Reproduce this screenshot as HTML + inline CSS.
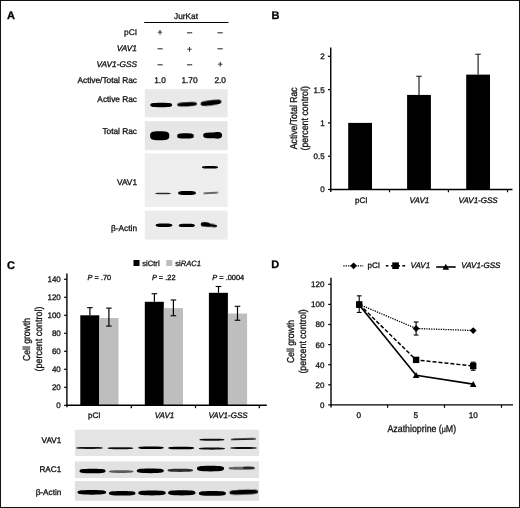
<!DOCTYPE html>
<html lang="en"><head><meta charset="utf-8"><title>Figure</title>
<style>html,body{margin:0;padding:0;background:#fff}svg{display:block}text{font-family:"Liberation Sans", sans-serif;stroke:#111;stroke-width:.3px;text-rendering:geometricPrecision}</style>
</head><body>
<svg width="520" height="508" viewBox="0 0 520 508">
<defs>
<filter id="b1" x="-20%" y="-100%" width="140%" height="300%"><feGaussianBlur stdDeviation="0.7"/></filter>
<filter id="b2" x="-20%" y="-100%" width="140%" height="300%"><feGaussianBlur stdDeviation="0.45"/></filter>
<filter id="soft" x="0" y="0" width="100%" height="100%" filterUnits="userSpaceOnUse"><feGaussianBlur stdDeviation="0.32"/></filter>
</defs>
<rect x="0" y="0" width="520" height="508" fill="#fff"/>
<rect x="0.5" y="0.5" width="519" height="507" fill="none" stroke="#111" stroke-width="1"/>
<g filter="url(#soft)">
<g id="panelA">
<text x="7" y="19" font-size="11" text-anchor="start" font-weight="bold" fill="#000">A</text>
<text x="186" y="18.8" font-size="8.3" text-anchor="middle" fill="#111">JurKat</text>
<line x1="144.2" y1="22.5" x2="228.5" y2="22.5" stroke="#000" stroke-width="1"/>
<text x="137" y="35" font-size="8.3" text-anchor="end" fill="#111">pCI</text>
<text x="137" y="51" font-size="8.3" text-anchor="end" font-style="italic" fill="#111">VAV1</text>
<text x="137" y="66.7" font-size="8.3" text-anchor="end" font-style="italic" fill="#111">VAV1-GSS</text>
<text x="137" y="82.9" font-size="8.3" text-anchor="end" fill="#111">Active/Total Rac</text>
<text x="160" y="35.1" font-size="8.5" text-anchor="middle" fill="#333" stroke-width="0.1">+</text>
<text x="189.5" y="35.6" font-size="9.8" text-anchor="middle" fill="#333" stroke-width="0.1">−</text>
<text x="220.2" y="35.6" font-size="9.8" text-anchor="middle" fill="#333" stroke-width="0.1">−</text>
<text x="160" y="52.1" font-size="9.8" text-anchor="middle" fill="#333" stroke-width="0.1">−</text>
<text x="189.5" y="51.6" font-size="8.5" text-anchor="middle" fill="#333" stroke-width="0.1">+</text>
<text x="220.2" y="52.1" font-size="9.8" text-anchor="middle" fill="#333" stroke-width="0.1">−</text>
<text x="160" y="67.69999999999999" font-size="9.8" text-anchor="middle" fill="#333" stroke-width="0.1">−</text>
<text x="189.5" y="67.69999999999999" font-size="9.8" text-anchor="middle" fill="#333" stroke-width="0.1">−</text>
<text x="220.2" y="67.19999999999999" font-size="8.5" text-anchor="middle" fill="#333" stroke-width="0.1">+</text>
<text x="160" y="82.9" font-size="8.3" text-anchor="middle" fill="#111">1.0</text>
<text x="189.5" y="82.9" font-size="8.3" text-anchor="middle" fill="#111">1.70</text>
<text x="220.2" y="82.9" font-size="8.3" text-anchor="middle" fill="#111">2.0</text>
<rect x="144.8" y="89.2" width="82.8" height="28.1" fill="#e9e9e9"/>
<rect x="144.8" y="121.2" width="82.8" height="29.0" fill="#e6e6e6"/>
<rect x="144.8" y="153.5" width="82.8" height="53.5" fill="#eeeeee"/>
<rect x="144.8" y="210.6" width="82.8" height="29.0" fill="#ebebeb"/>
<text x="137" y="101.8" font-size="8.3" text-anchor="end" fill="#111">Active Rac</text>
<text x="137" y="134" font-size="8.3" text-anchor="end" fill="#111">Total Rac</text>
<text x="137" y="184.9" font-size="8.3" text-anchor="end" fill="#111">VAV1</text>
<text x="137" y="231.3" font-size="8.3" text-anchor="end" fill="#111">β-Actin</text>
<path d="M150.28 105.00C150.28 103.46 151.37 102.80 161.20 102.80C171.03 102.80 172.12 103.46 172.12 105.00C172.12 106.54 171.03 107.20 161.20 107.20C151.37 107.20 150.28 106.54 150.28 105.00Z" fill="#000" opacity="1.0" filter="url(#b1)"/>
<path d="M177.22 104.30C177.22 102.83 178.21 102.20 187.10 102.20C195.99 102.20 196.98 102.83 196.98 104.30C196.98 105.77 195.99 106.40 187.10 106.40C178.21 106.40 177.22 105.77 177.22 104.30Z" fill="#000" opacity="1.0" filter="url(#b1)" transform="rotate(-3 187.1 104.3)"/>
<path d="M200.60 102.80C200.60 100.98 201.64 100.20 211.00 100.20C220.36 100.20 221.40 100.98 221.40 102.80C221.40 104.62 220.36 105.40 211.00 105.40C201.64 105.40 200.60 104.62 200.60 102.80Z" fill="#000" opacity="1.0" filter="url(#b1)" transform="rotate(-7 211.0 102.8)"/>
<path d="M150.08 135.80C150.08 132.65 151.04 131.30 159.70 131.30C168.36 131.30 169.32 132.65 169.32 135.80C169.32 138.95 168.36 140.30 159.70 140.30C151.04 140.30 150.08 138.95 150.08 135.80Z" fill="#000" opacity="1.0" filter="url(#b1)"/>
<path d="M177.18 135.90C177.18 134.01 178.01 133.20 185.50 133.20C192.99 133.20 193.82 134.01 193.82 135.90C193.82 137.79 192.99 138.60 185.50 138.60C178.01 138.60 177.18 137.79 177.18 135.90Z" fill="#000" opacity="1.0" filter="url(#b1)"/>
<path d="M203.24 135.40C203.24 133.44 204.18 132.60 212.60 132.60C221.02 132.60 221.96 133.44 221.96 135.40C221.96 137.36 221.02 138.20 212.60 138.20C204.18 138.20 203.24 137.36 203.24 135.40Z" fill="#000" opacity="1.0" filter="url(#b1)"/>
<path d="M213.34 135.20C213.34 132.89 213.76 131.90 217.50 131.90C221.24 131.90 221.66 132.89 221.66 135.20C221.66 137.51 221.24 138.50 217.50 138.50C213.76 138.50 213.34 137.51 213.34 135.20Z" fill="#000" opacity="1.0" filter="url(#b1)"/>
<path d="M201.94 167.30C201.94 166.39 202.75 166.00 210.00 166.00C217.25 166.00 218.06 166.39 218.06 167.30C218.06 168.21 217.25 168.60 210.00 168.60C202.75 168.60 201.94 168.21 201.94 167.30Z" fill="#000" opacity="1.0" filter="url(#b2)"/>
<path d="M155.20 193.50C155.20 192.94 155.98 192.70 163.00 192.70C170.02 192.70 170.80 192.94 170.80 193.50C170.80 194.06 170.02 194.30 163.00 194.30C155.98 194.30 155.20 194.06 155.20 193.50Z" fill="#000" opacity="0.8" filter="url(#b2)"/>
<path d="M178.16 193.00C178.16 191.53 179.04 190.90 187.00 190.90C194.96 190.90 195.84 191.53 195.84 193.00C195.84 194.47 194.96 195.10 187.00 195.10C179.04 195.10 178.16 194.47 178.16 193.00Z" fill="#000" opacity="1.0" filter="url(#b1)"/>
<path d="M203.00 193.00C203.00 192.47 203.78 192.25 210.80 192.25C217.82 192.25 218.60 192.47 218.60 193.00C218.60 193.53 217.82 193.75 210.80 193.75C203.78 193.75 203.00 193.53 203.00 193.00Z" fill="#000" opacity="0.75" filter="url(#b2)" transform="rotate(-3 210.8 193.0)"/>
<path d="M155.68 225.20C155.68 223.94 156.51 223.40 164.00 223.40C171.49 223.40 172.32 223.94 172.32 225.20C172.32 226.46 171.49 227.00 164.00 227.00C156.51 227.00 155.68 226.46 155.68 225.20Z" fill="#000" opacity="1.0" filter="url(#b1)"/>
<path d="M178.74 225.40C178.74 224.21 179.55 223.70 186.80 223.70C194.05 223.70 194.86 224.21 194.86 225.40C194.86 226.59 194.05 227.10 186.80 227.10C179.55 227.10 178.74 226.59 178.74 225.40Z" fill="#000" opacity="1.0" filter="url(#b1)"/>
<path d="M200.94 225.10C200.94 223.94 201.75 223.45 209.00 223.45C216.25 223.45 217.06 223.94 217.06 225.10C217.06 226.25 216.25 226.75 209.00 226.75C201.75 226.75 200.94 226.25 200.94 225.10Z" fill="#000" opacity="1.0" filter="url(#b1)" transform="rotate(8 209.0 225.1)"/>
<path d="M200.88 224.40C200.88 222.86 201.32 222.20 205.30 222.20C209.28 222.20 209.72 222.86 209.72 224.40C209.72 225.94 209.28 226.60 205.30 226.60C201.32 226.60 200.88 225.94 200.88 224.40Z" fill="#000" opacity="1.0" filter="url(#b1)" transform="rotate(4 205.3 224.4)"/>
</g>
<g id="panelB">
<text x="271.5" y="19" font-size="11" text-anchor="start" font-weight="bold" fill="#000">B</text>
<line x1="330.75" y1="47.5" x2="330.75" y2="192" stroke="#000" stroke-width="1.4"/>
<line x1="330.75" y1="189.5" x2="512.5" y2="189.5" stroke="#000" stroke-width="1.4"/>
<line x1="327.95" y1="189.5" x2="330.75" y2="189.5" stroke="#000" stroke-width="1.2"/>
<text x="324.6" y="192.4" font-size="8" text-anchor="end" fill="#111">0</text>
<line x1="327.95" y1="156.2" x2="330.75" y2="156.2" stroke="#000" stroke-width="1.2"/>
<text x="324.6" y="159.1" font-size="8" text-anchor="end" fill="#111">0.5</text>
<line x1="327.95" y1="122.9" x2="330.75" y2="122.9" stroke="#000" stroke-width="1.2"/>
<text x="324.6" y="125.80000000000001" font-size="8" text-anchor="end" fill="#111">1</text>
<line x1="327.95" y1="89.60000000000001" x2="330.75" y2="89.60000000000001" stroke="#000" stroke-width="1.2"/>
<text x="324.6" y="92.50000000000001" font-size="8" text-anchor="end" fill="#111">1.5</text>
<line x1="327.95" y1="56.30000000000001" x2="330.75" y2="56.30000000000001" stroke="#000" stroke-width="1.2"/>
<text x="324.6" y="59.20000000000001" font-size="8" text-anchor="end" fill="#111">2</text>
<line x1="389.5" y1="189.5" x2="389.5" y2="192.3" stroke="#000" stroke-width="1.2"/>
<line x1="448.4" y1="189.5" x2="448.4" y2="192.3" stroke="#000" stroke-width="1.2"/>
<line x1="507.5" y1="189.5" x2="507.5" y2="192.3" stroke="#000" stroke-width="1.2"/>
<rect x="348.20000000000005" y="122.9" width="23.8" height="66.6" fill="#000"/>
<rect x="407.1" y="94.92800000000001" width="23.8" height="94.57199999999999" fill="#000"/>
<line x1="419.0" y1="76.28000000000002" x2="419.0" y2="94.92800000000001" stroke="#333" stroke-width="1.3"/>
<line x1="416.3" y1="76.28000000000002" x2="421.7" y2="76.28000000000002" stroke="#333" stroke-width="1.2"/>
<rect x="466.20000000000005" y="74.61500000000001" width="23.8" height="114.88499999999999" fill="#000"/>
<line x1="478.1" y1="54.30200000000002" x2="478.1" y2="74.61500000000001" stroke="#333" stroke-width="1.3"/>
<line x1="475.40000000000003" y1="54.30200000000002" x2="480.8" y2="54.30200000000002" stroke="#333" stroke-width="1.2"/>
<text x="361.2" y="203" font-size="8" text-anchor="middle" fill="#111">pCI</text>
<text x="419.4" y="202.8" font-size="8" text-anchor="middle" font-style="italic" fill="#111">VAV1</text>
<text x="478.1" y="202.8" font-size="8" text-anchor="middle" font-style="italic" fill="#111">VAV1-GSS</text>
<text transform="translate(297.3 118.3) rotate(-90) scale(0.86 1)" font-size="10" text-anchor="middle" fill="#111">Active/Total Rac</text>
<text transform="translate(308.0 118.3) rotate(-90) scale(0.885 1)" font-size="10" text-anchor="middle" fill="#111">(percent control)</text>
</g>
<g id="panelC">
<text x="7" y="268.5" font-size="11" text-anchor="start" font-weight="bold" fill="#000">C</text>
<rect x="133.5" y="260.0" width="6" height="6" fill="#000"/>
<text x="142.3" y="265.8" font-size="7.6" text-anchor="start" fill="#111">siCtrl</text>
<rect x="166.3" y="260.0" width="6" height="6" fill="#bebebe"/>
<text x="175.2" y="265.8" font-size="7.6" fill="#111">si<tspan font-style="italic">RAC1</tspan></text>
<line x1="64.10000000000001" y1="405.3" x2="66.9" y2="405.3" stroke="#000" stroke-width="1.2"/>
<text x="60.8" y="408.2" font-size="8" text-anchor="end" fill="#111">0</text>
<line x1="64.10000000000001" y1="387.3" x2="66.9" y2="387.3" stroke="#000" stroke-width="1.2"/>
<text x="60.8" y="390.2" font-size="8" text-anchor="end" fill="#111">20</text>
<line x1="64.10000000000001" y1="369.3" x2="66.9" y2="369.3" stroke="#000" stroke-width="1.2"/>
<text x="60.8" y="372.2" font-size="8" text-anchor="end" fill="#111">40</text>
<line x1="64.10000000000001" y1="351.3" x2="66.9" y2="351.3" stroke="#000" stroke-width="1.2"/>
<text x="60.8" y="354.2" font-size="8" text-anchor="end" fill="#111">60</text>
<line x1="64.10000000000001" y1="333.3" x2="66.9" y2="333.3" stroke="#000" stroke-width="1.2"/>
<text x="60.8" y="336.2" font-size="8" text-anchor="end" fill="#111">80</text>
<line x1="64.10000000000001" y1="315.3" x2="66.9" y2="315.3" stroke="#000" stroke-width="1.2"/>
<text x="60.8" y="318.2" font-size="8" text-anchor="end" fill="#111">100</text>
<line x1="64.10000000000001" y1="297.3" x2="66.9" y2="297.3" stroke="#000" stroke-width="1.2"/>
<text x="60.8" y="300.2" font-size="8" text-anchor="end" fill="#111">120</text>
<line x1="64.10000000000001" y1="279.3" x2="66.9" y2="279.3" stroke="#000" stroke-width="1.2"/>
<text x="60.8" y="282.2" font-size="8" text-anchor="end" fill="#111">140</text>
<line x1="131.3" y1="405.3" x2="131.3" y2="408.2" stroke="#000" stroke-width="1.2"/>
<line x1="195.5" y1="405.3" x2="195.5" y2="408.2" stroke="#000" stroke-width="1.2"/>
<line x1="259.3" y1="405.3" x2="259.3" y2="408.2" stroke="#000" stroke-width="1.2"/>
<rect x="80.3" y="315.3" width="19.0" height="90.0" fill="#000"/>
<rect x="99.3" y="318.0" width="19.2" height="87.30000000000001" fill="#bebebe"/>
<line x1="89.89999999999999" y1="307.65" x2="89.89999999999999" y2="315.3" stroke="#000" stroke-width="1.2"/>
<line x1="87.1" y1="307.65" x2="92.69999999999999" y2="307.65" stroke="#000" stroke-width="1.1"/>
<line x1="108.89999999999999" y1="308.1" x2="108.89999999999999" y2="326.1" stroke="#000" stroke-width="1.2"/>
<line x1="106.1" y1="308.1" x2="111.69999999999999" y2="308.1" stroke="#000" stroke-width="1.1"/>
<line x1="106.1" y1="326.1" x2="111.69999999999999" y2="326.1" stroke="#000" stroke-width="1.1"/>
<rect x="144.8" y="301.8" width="19.0" height="103.5" fill="#000"/>
<rect x="163.8" y="308.1" width="19.2" height="97.19999999999999" fill="#bebebe"/>
<line x1="154.4" y1="293.7" x2="154.4" y2="301.8" stroke="#000" stroke-width="1.2"/>
<line x1="151.6" y1="293.7" x2="157.20000000000002" y2="293.7" stroke="#000" stroke-width="1.1"/>
<line x1="173.4" y1="300.0" x2="173.4" y2="315.75" stroke="#000" stroke-width="1.2"/>
<line x1="170.6" y1="300.0" x2="176.20000000000002" y2="300.0" stroke="#000" stroke-width="1.1"/>
<line x1="170.6" y1="315.75" x2="176.20000000000002" y2="315.75" stroke="#000" stroke-width="1.1"/>
<rect x="208.9" y="292.8" width="19.0" height="112.5" fill="#000"/>
<rect x="227.9" y="313.5" width="19.2" height="91.80000000000001" fill="#bebebe"/>
<line x1="218.5" y1="286.5" x2="218.5" y2="292.8" stroke="#000" stroke-width="1.2"/>
<line x1="215.7" y1="286.5" x2="221.3" y2="286.5" stroke="#000" stroke-width="1.1"/>
<line x1="237.5" y1="306.3" x2="237.5" y2="320.25" stroke="#000" stroke-width="1.2"/>
<line x1="234.7" y1="306.3" x2="240.3" y2="306.3" stroke="#000" stroke-width="1.1"/>
<line x1="234.7" y1="320.25" x2="240.3" y2="320.25" stroke="#000" stroke-width="1.1"/>
<line x1="66.9" y1="273.5" x2="66.9" y2="407.2" stroke="#000" stroke-width="1.4"/>
<line x1="66.9" y1="405.3" x2="266.8" y2="405.3" stroke="#000" stroke-width="1.4"/>
<text x="99.4" y="280" font-size="7.4" text-anchor="middle" fill="#111"><tspan font-style="italic">P</tspan> = .70</text>
<text x="163.7" y="280" font-size="7.4" text-anchor="middle" fill="#111"><tspan font-style="italic">P</tspan> = .22</text>
<text x="228.2" y="280" font-size="7.4" text-anchor="middle" fill="#111"><tspan font-style="italic">P</tspan> = .0004</text>
<text x="94.3" y="418.4" font-size="8" text-anchor="middle" fill="#111">pCI</text>
<text x="164.5" y="418.3" font-size="8" text-anchor="middle" font-style="italic" fill="#111">VAV1</text>
<text x="228.0" y="418.3" font-size="8" text-anchor="middle" font-style="italic" fill="#111">VAV1-GSS</text>
<text transform="translate(30.3 339.5) rotate(-90) scale(0.86 1)" font-size="10" text-anchor="middle" fill="#111">Cell growth</text>
<text transform="translate(41.5 339.0) rotate(-90) scale(0.89 1)" font-size="10" text-anchor="middle" fill="#111">(percent control)</text>
<rect x="74.9" y="429.7" width="184.2" height="26.3" fill="#e4e4e4"/>
<rect x="74.9" y="461.4" width="184.2" height="16.6" fill="#e2e2e2"/>
<rect x="74.9" y="481.0" width="184.2" height="19.8" fill="#e0e0e0"/>
<text x="61.3" y="442.5" font-size="8.2" text-anchor="end" fill="#111">VAV1</text>
<text x="61.3" y="472.0" font-size="8.2" text-anchor="end" fill="#111">RAC1</text>
<text x="61.3" y="494.5" font-size="8.2" text-anchor="end" fill="#111">β-Actin</text>
<path d="M76.24 448.00C76.24 447.37 77.57 447.10 89.50 447.10C101.43 447.10 102.76 447.37 102.76 448.00C102.76 448.63 101.43 448.90 89.50 448.90C77.57 448.90 76.24 448.63 76.24 448.00Z" fill="#000" opacity="0.9" filter="url(#b2)"/>
<path d="M107.76 448.20C107.76 447.53 109.03 447.25 120.50 447.25C131.97 447.25 133.24 447.53 133.24 448.20C133.24 448.87 131.97 449.15 120.50 449.15C109.03 449.15 107.76 448.87 107.76 448.20Z" fill="#000" opacity="0.92" filter="url(#b2)"/>
<path d="M138.26 447.80C138.26 446.89 139.53 446.50 151.00 446.50C162.47 446.50 163.74 446.89 163.74 447.80C163.74 448.71 162.47 449.10 151.00 449.10C139.53 449.10 138.26 448.71 138.26 447.80Z" fill="#000" opacity="1.0" filter="url(#b2)"/>
<path d="M168.20 448.00C168.20 447.06 169.50 446.65 181.20 446.65C192.90 446.65 194.20 447.06 194.20 448.00C194.20 448.94 192.90 449.35 181.20 449.35C169.50 449.35 168.20 448.94 168.20 448.00Z" fill="#000" opacity="1.0" filter="url(#b2)"/>
<path d="M198.90 448.60C198.90 447.87 200.20 447.55 211.90 447.55C223.60 447.55 224.90 447.87 224.90 448.60C224.90 449.34 223.60 449.65 211.90 449.65C200.20 449.65 198.90 449.34 198.90 448.60Z" fill="#000" opacity="0.95" filter="url(#b2)"/>
<path d="M230.29 448.10C230.29 447.40 231.61 447.10 243.50 447.10C255.39 447.10 256.71 447.40 256.71 448.10C256.71 448.80 255.39 449.10 243.50 449.10C231.61 449.10 230.29 448.80 230.29 448.10Z" fill="#000" opacity="0.92" filter="url(#b2)"/>
<path d="M199.42 439.80C199.42 439.13 200.67 438.85 211.90 438.85C223.13 438.85 224.38 439.13 224.38 439.80C224.38 440.47 223.13 440.75 211.90 440.75C200.67 440.75 199.42 440.47 199.42 439.80Z" fill="#000" opacity="0.92" filter="url(#b2)"/>
<path d="M230.66 439.20C230.66 438.57 231.93 438.30 243.40 438.30C254.87 438.30 256.14 438.57 256.14 439.20C256.14 439.83 254.87 440.10 243.40 440.10C231.93 440.10 230.66 439.83 230.66 439.20Z" fill="#000" opacity="0.88" filter="url(#b2)" transform="rotate(-1.5 243.4 439.2)"/>
<path d="M79.50 471.00C79.50 469.39 80.80 468.70 92.50 468.70C104.20 468.70 105.50 469.39 105.50 471.00C105.50 472.61 104.20 473.30 92.50 473.30C80.80 473.30 79.50 472.61 79.50 471.00Z" fill="#000" opacity="1.0" filter="url(#b1)"/>
<path d="M108.98 471.60C108.98 470.62 110.20 470.20 121.20 470.20C132.20 470.20 133.42 470.62 133.42 471.60C133.42 472.58 132.20 473.00 121.20 473.00C110.20 473.00 108.98 472.58 108.98 471.60Z" fill="#000" opacity="0.6" filter="url(#b1)"/>
<path d="M136.78 470.80C136.78 469.12 138.13 468.40 150.30 468.40C162.47 468.40 163.82 469.12 163.82 470.80C163.82 472.48 162.47 473.20 150.30 473.20C138.13 473.20 136.78 472.48 136.78 470.80Z" fill="#000" opacity="1.0" filter="url(#b1)"/>
<path d="M167.56 470.30C167.56 469.18 168.83 468.70 180.30 468.70C191.77 468.70 193.04 469.18 193.04 470.30C193.04 471.42 191.77 471.90 180.30 471.90C168.83 471.90 167.56 471.42 167.56 470.30Z" fill="#000" opacity="0.8" filter="url(#b1)"/>
<path d="M196.98 468.60C196.98 466.64 198.33 465.80 210.50 465.80C222.67 465.80 224.02 466.64 224.02 468.60C224.02 470.56 222.67 471.40 210.50 471.40C198.33 471.40 196.98 470.56 196.98 468.60Z" fill="#000" opacity="1.0" filter="url(#b1)"/>
<path d="M228.64 468.20C228.64 467.15 229.97 466.70 241.90 466.70C253.83 466.70 255.16 467.15 255.16 468.20C255.16 469.25 253.83 469.70 241.90 469.70C229.97 469.70 228.64 469.25 228.64 468.20Z" fill="#000" opacity="0.55" filter="url(#b1)"/>
<path d="M242.78 467.70C242.78 466.79 243.35 466.40 248.50 466.40C253.65 466.40 254.22 466.79 254.22 467.70C254.22 468.61 253.65 469.00 248.50 469.00C243.35 469.00 242.78 468.61 242.78 467.70Z" fill="#000" opacity="0.6" filter="url(#b1)"/>
<path d="M77.50 492.30C77.50 490.62 78.93 489.90 91.80 489.90C104.67 489.90 106.10 490.62 106.10 492.30C106.10 493.98 104.67 494.70 91.80 494.70C78.93 494.70 77.50 493.98 77.50 492.30Z" fill="#000" opacity="1.0" filter="url(#b1)"/>
<path d="M108.94 493.20C108.94 491.59 110.27 490.90 122.20 490.90C134.13 490.90 135.46 491.59 135.46 493.20C135.46 494.81 134.13 495.50 122.20 495.50C110.27 495.50 108.94 494.81 108.94 493.20Z" fill="#000" opacity="1.0" filter="url(#b1)"/>
<path d="M138.27 493.00C138.27 491.32 139.64 490.60 152.00 490.60C164.36 490.60 165.73 491.32 165.73 493.00C165.73 494.68 164.36 495.40 152.00 495.40C139.64 495.40 138.27 494.68 138.27 493.00Z" fill="#000" opacity="1.0" filter="url(#b1)"/>
<path d="M168.12 492.80C168.12 490.98 169.49 490.20 181.80 490.20C194.11 490.20 195.48 490.98 195.48 492.80C195.48 494.62 194.11 495.40 181.80 495.40C169.49 495.40 168.12 494.62 168.12 492.80Z" fill="#000" opacity="1.0" filter="url(#b1)"/>
<path d="M198.88 493.40C198.88 491.72 200.23 491.00 212.40 491.00C224.57 491.00 225.92 491.72 225.92 493.40C225.92 495.08 224.57 495.80 212.40 495.80C200.23 495.80 198.88 495.08 198.88 493.40Z" fill="#000" opacity="1.0" filter="url(#b1)"/>
<path d="M229.50 492.20C229.50 490.52 230.93 489.80 243.80 489.80C256.67 489.80 258.10 490.52 258.10 492.20C258.10 493.88 256.67 494.60 243.80 494.60C230.93 494.60 229.50 493.88 229.50 492.20Z" fill="#000" opacity="1.0" filter="url(#b1)" transform="rotate(-2 243.8 492.2)"/>
</g>
<g id="panelD">
<text x="271.3" y="268.4" font-size="11" text-anchor="start" font-weight="bold" fill="#000">D</text>
<line x1="331.0" y1="277.8" x2="331.0" y2="407.6" stroke="#000" stroke-width="1.4"/>
<line x1="331.0" y1="404.9" x2="513" y2="404.9" stroke="#000" stroke-width="1.4"/>
<line x1="328.2" y1="404.9" x2="331.0" y2="404.9" stroke="#000" stroke-width="1.2"/>
<text x="324.4" y="407.79999999999995" font-size="8" text-anchor="end" fill="#111">0</text>
<line x1="328.2" y1="384.79999999999995" x2="331.0" y2="384.79999999999995" stroke="#000" stroke-width="1.2"/>
<text x="324.4" y="387.69999999999993" font-size="8" text-anchor="end" fill="#111">20</text>
<line x1="328.2" y1="364.7" x2="331.0" y2="364.7" stroke="#000" stroke-width="1.2"/>
<text x="324.4" y="367.59999999999997" font-size="8" text-anchor="end" fill="#111">40</text>
<line x1="328.2" y1="344.59999999999997" x2="331.0" y2="344.59999999999997" stroke="#000" stroke-width="1.2"/>
<text x="324.4" y="347.49999999999994" font-size="8" text-anchor="end" fill="#111">60</text>
<line x1="328.2" y1="324.5" x2="331.0" y2="324.5" stroke="#000" stroke-width="1.2"/>
<text x="324.4" y="327.4" font-size="8" text-anchor="end" fill="#111">80</text>
<line x1="328.2" y1="304.4" x2="331.0" y2="304.4" stroke="#000" stroke-width="1.2"/>
<text x="324.4" y="307.29999999999995" font-size="8" text-anchor="end" fill="#111">100</text>
<line x1="328.2" y1="284.29999999999995" x2="331.0" y2="284.29999999999995" stroke="#000" stroke-width="1.2"/>
<text x="324.4" y="287.19999999999993" font-size="8" text-anchor="end" fill="#111">120</text>
<line x1="387.6" y1="404.9" x2="387.6" y2="407.79999999999995" stroke="#000" stroke-width="1.2"/>
<line x1="444.5" y1="404.9" x2="444.5" y2="407.79999999999995" stroke="#000" stroke-width="1.2"/>
<line x1="501.5" y1="404.9" x2="501.5" y2="407.79999999999995" stroke="#000" stroke-width="1.2"/>
<polyline points="359.2,304.4 416.1,328.5 473.2,330.5" fill="none" stroke="#000" stroke-width="1.3" stroke-dasharray="1.3 1.1"/>
<polyline points="359.2,304.4 416.1,359.9 473.2,366.0" fill="none" stroke="#000" stroke-width="1.5" stroke-dasharray="4 2"/>
<polyline points="359.2,304.9 416.1,375.3 473.2,384.1" fill="none" stroke="#000" stroke-width="1.6"/>
<line x1="359.2" y1="295.85749999999996" x2="359.2" y2="312.44" stroke="#000" stroke-width="1.1"/>
<line x1="356.8" y1="295.85749999999996" x2="361.59999999999997" y2="295.85749999999996" stroke="#000" stroke-width="1.1"/>
<line x1="356.8" y1="312.44" x2="361.59999999999997" y2="312.44" stroke="#000" stroke-width="1.1"/>
<line x1="416.1" y1="321.98749999999995" x2="416.1" y2="335.0525" stroke="#000" stroke-width="1.1"/>
<line x1="413.70000000000005" y1="321.98749999999995" x2="418.5" y2="321.98749999999995" stroke="#000" stroke-width="1.1"/>
<line x1="413.70000000000005" y1="335.0525" x2="418.5" y2="335.0525" stroke="#000" stroke-width="1.1"/>
<line x1="473.2" y1="362.1875" x2="473.2" y2="370.22749999999996" stroke="#000" stroke-width="1.1"/>
<line x1="470.8" y1="362.1875" x2="475.59999999999997" y2="362.1875" stroke="#000" stroke-width="1.1"/>
<line x1="470.8" y1="370.22749999999996" x2="475.59999999999997" y2="370.22749999999996" stroke="#000" stroke-width="1.1"/>
<polygon points="355.8,304.4 359.2,301.0 362.59999999999997,304.4 359.2,307.79999999999995" fill="#000"/>
<polygon points="412.70000000000005,328.52 416.1,325.12 419.5,328.52 416.1,331.91999999999996" fill="#000"/>
<polygon points="469.8,330.53 473.2,327.13 476.59999999999997,330.53 473.2,333.92999999999995" fill="#000"/>
<rect x="356.0" y="301.2" width="6.4" height="6.4" fill="#000"/>
<rect x="412.90000000000003" y="356.676" width="6.4" height="6.4" fill="#000"/>
<rect x="470.0" y="362.80649999999997" width="6.4" height="6.4" fill="#000"/>
<polygon points="355.9,307.7025 362.5,307.7025 359.2,301.7025" fill="#000"/>
<polygon points="412.8,378.0525 419.40000000000003,378.0525 416.1,372.0525" fill="#000"/>
<polygon points="469.9,386.8965 476.5,386.8965 473.2,380.8965" fill="#000"/>
<line x1="343.3" y1="265.8" x2="363.3" y2="265.8" stroke="#000" stroke-width="1.3" stroke-dasharray="1.3 1.1"/>
<polygon points="350.20000000000005,265.8 353.6,262.40000000000003 357.0,265.8 353.6,269.2" fill="#000"/>
<text x="367.5" y="268.3" font-size="8" text-anchor="start" fill="#111">pCI</text>
<line x1="385.8" y1="265.8" x2="388.4" y2="265.8" stroke="#000" stroke-width="1.5"/>
<line x1="391.0" y1="265.8" x2="400.0" y2="265.8" stroke="#000" stroke-width="1.5"/>
<line x1="402.3" y1="265.8" x2="405.2" y2="265.8" stroke="#000" stroke-width="1.5"/>
<rect x="392.25" y="262.4" width="6.6" height="6.6" fill="#000"/>
<text x="410.5" y="268.3" font-size="8" text-anchor="start" font-style="italic" fill="#111">VAV1</text>
<line x1="436.2" y1="267.0" x2="455.7" y2="267.0" stroke="#000" stroke-width="1.6"/>
<polygon points="442.5,269.7 449.1,269.7 445.8,263.7" fill="#000"/>
<text x="461.3" y="268.3" font-size="8" text-anchor="start" font-style="italic" fill="#111">VAV1-GSS</text>
<text x="358.9" y="418.0" font-size="8.2" text-anchor="middle" fill="#111">0</text>
<text x="415.9" y="418.0" font-size="8.2" text-anchor="middle" fill="#111">5</text>
<text x="473.2" y="418.0" font-size="8.2" text-anchor="middle" fill="#111">10</text>
<text transform="translate(421.8 432.0) scale(0.88 1)" font-size="10" text-anchor="middle" fill="#111">Azathioprine (<tspan font-size="8">μ</tspan>M)</text>
<text transform="translate(294.1 341.5) rotate(-90) scale(0.86 1)" font-size="10" text-anchor="middle" fill="#111">Cell growth</text>
<text transform="translate(305.5 341.4) rotate(-90) scale(0.885 1)" font-size="10" text-anchor="middle" fill="#111">(percent control)</text>
</g>
</g>
</svg>
</body></html>
